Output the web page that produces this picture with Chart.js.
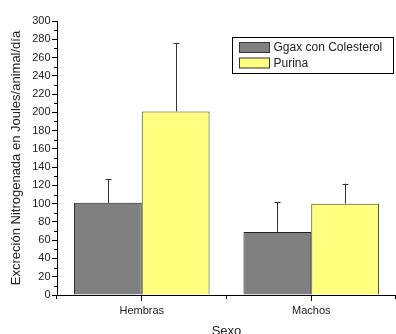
<!DOCTYPE html>
<html>
<head>
<meta charset="utf-8">
<script src="https://cdn.jsdelivr.net/npm/chart.js@4"></script>
<style>
  html, body { margin: 0; padding: 0; background: #fff; overflow: hidden; }
  #wrap { position: relative; width: 396px; height: 344px; }
</style>
</head>
<body>
<div id="wrap"><canvas id="excrecionChart"></canvas></div>
<script>
const categories = ["Hembras", "Machos"];
const seriesNames = ["Ggax con Colesterol", "Purina"];
const ggaxValues = [101, 69];
const ggaxErrors = [26, 33];
const purinaValues = [201, 100];
const purinaErrors = [75, 22];
const yTicks = [0, 20, 40, 60, 80, 100, 120, 140, 160, 180, 200, 220, 240, 260, 280, 300];

const colors = ["#808080", "#ffff80"];
const errors = [ggaxErrors, purinaErrors];

Chart.defaults.font.family = "'Liberation Sans', Arial, sans-serif";
Chart.defaults.color = "#222";

// Error bars (upper side only) and minor ticks on both axes
const extrasPlugin = {
  id: "extras",
  afterDatasetsDraw(chart) {
    const ctx = chart.ctx;
    const y = chart.scales.y;
    ctx.save();
    ctx.strokeStyle = "#333";
    ctx.lineWidth = 1;
    chart.data.datasets.forEach((ds, di) => {
      chart.getDatasetMeta(di).data.forEach((bar, i) => {
        const top = y.getPixelForValue(ds.data[i] + errors[di][i]);
        const x = Math.round(bar.x) + 0.5;
        ctx.beginPath();
        ctx.moveTo(x, bar.y);
        ctx.lineTo(x, top);
        ctx.moveTo(x - 3, Math.round(top) + 0.5);
        ctx.lineTo(x + 3, Math.round(top) + 0.5);
        ctx.stroke();
      });
    });
    ctx.restore();
  },
  afterDraw(chart) {
    const ctx = chart.ctx;
    const {left, right, bottom} = chart.chartArea;
    const y = chart.scales.y;
    ctx.save();
    ctx.strokeStyle = "#000";
    ctx.lineWidth = 1;
    ctx.beginPath();
    // minor y ticks halfway between labelled ones
    for (let i = 0; i < yTicks.length - 1; i++) {
      const py = Math.round(y.getPixelForValue((yTicks[i] + yTicks[i + 1]) / 2)) + 0.5;
      ctx.moveTo(left - 3, py);
      ctx.lineTo(left, py);
    }
    // minor x ticks at category boundaries
    const step = (right - left) / categories.length;
    for (let i = 0; i <= categories.length; i++) {
      const px = Math.round(left + i * step) - 0.5;
      ctx.moveTo(px, bottom);
      ctx.lineTo(px, bottom + 4);
    }
    ctx.stroke();

    // legend box
    const bx = 232.5, by = 37.5, bw = 161, bh = 36;
    ctx.strokeStyle = "#000";
    ctx.strokeRect(bx, by, bw, bh);
    ctx.font = "12px 'Liberation Sans', Arial, sans-serif";
    ctx.textBaseline = "middle";
    ctx.fillStyle = "#222";
    seriesNames.forEach((name, i) => {
      const sy = by + 5 + i * 15.5;
      ctx.fillStyle = colors[i];
      ctx.fillRect(bx + 7, sy, 30, 10);
      ctx.strokeStyle = "#333";
      ctx.strokeRect(bx + 7, sy, 30, 10);
      ctx.fillStyle = "#222";
      ctx.fillText(name, bx + 41, sy + 5.5);
    });
    ctx.restore();
  }
};

new Chart(document.getElementById("excrecionChart"), {
  type: "bar",
  data: {
    labels: categories,
    datasets: [
      { label: seriesNames[0], data: ggaxValues, backgroundColor: colors[0], borderColor: "#222", borderWidth: 1 },
      { label: seriesNames[1], data: purinaValues, backgroundColor: colors[1], borderColor: "#444422", borderWidth: 1 }
    ]
  },
  options: {
    responsive: true,
    maintainAspectRatio: false,
    animation: false,
    layout: { padding: { top: 21, right: 0, bottom: 0, left: 0 } },
    plugins: { legend: { display: false }, tooltip: { enabled: false } },
    datasets: { bar: { categoryPercentage: 0.8, barPercentage: 1 } },
    scales: {
      x: {
        grid: { display: true, drawOnChartArea: false, offset: false, tickLength: 6, color: "#000" },
        border: { display: true, color: "#000", width: 1 },
        ticks: { font: { size: 11 }, padding: 3 },
        title: { display: true, text: "Sexo", font: { size: 13 }, padding: { top: 0, bottom: 5 } },
        afterFit(scale) { scale.height = 49; }
      },
      y: {
        min: 0,
        max: 300,
        afterBuildTicks(scale) { scale.ticks = yTicks.map(v => ({ value: v })); },
        grid: { display: true, drawOnChartArea: false, tickLength: 5, color: "#000" },
        border: { display: true, color: "#000", width: 1 },
        ticks: { font: { size: 11 }, padding: 1.5 },
        title: { display: true, text: "Excreción Nitrogenada en Joules/animal/día", font: { size: 13 }, padding: { top: 8.4, bottom: 0 } },
        afterFit(scale) { scale.width = 57; }
      }
    }
  },
  plugins: [extrasPlugin]
});
</script>
</body>
</html>
